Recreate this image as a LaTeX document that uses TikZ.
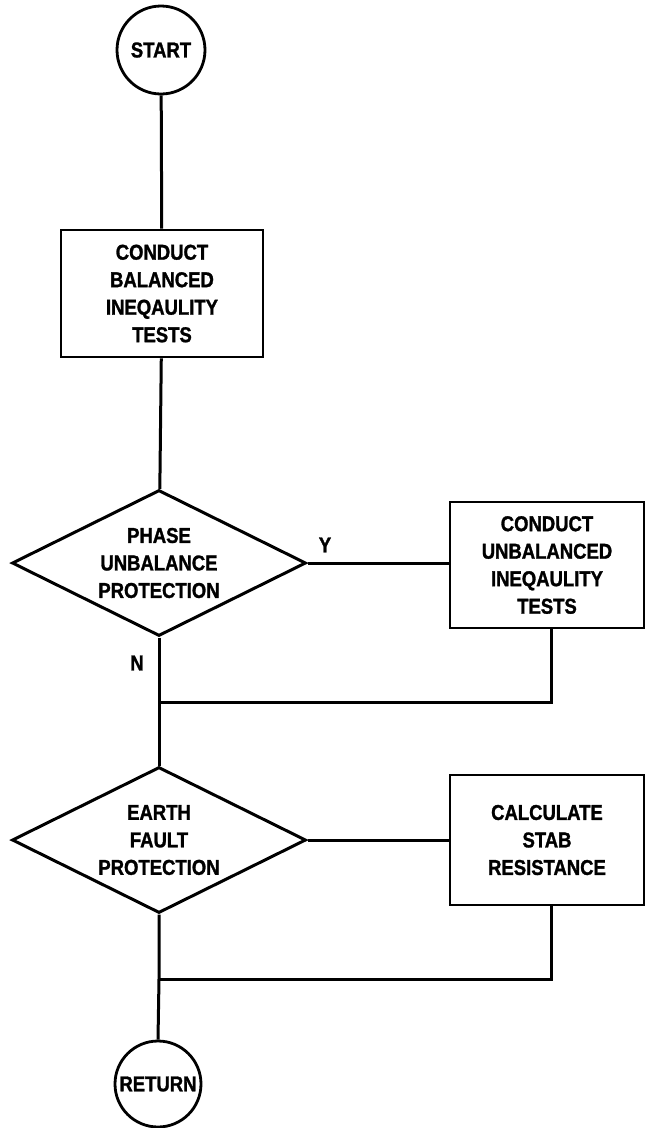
\documentclass[tikz,border=0pt]{standalone}
\usepackage{fontspec}
\newfontfamily\chartfont[FakeStretch=0.86,BoldFeatures={FakeBold=1.3}]{Liberation Sans}
\usetikzlibrary{shapes.geometric}
\begin{document}
\begin{tikzpicture}[x=1pt,y=1pt,
  every node/.style={font=\chartfont\bfseries\fontsize{21.5}{27.5}\selectfont, align=center},
  conn/.style={line width=3pt},
  term/.style={draw, circle, line width=2.8pt, minimum size=88pt, inner sep=0pt},
  procbox/.style={draw, rectangle, line width=2.8pt, inner sep=0pt},
  decision/.style={draw, diamond, line width=3pt, inner sep=-8pt, aspect=2, minimum width=294pt, minimum height=146pt},
  lbl/.style={inner sep=0pt}]
\useasboundingbox (0,0) rectangle (646,-1128);
\node[term] (start) at (161,-50) {START};
\node[procbox, minimum width=202pt, minimum height=127pt] (b1) at (162,-293.5) {CONDUCT\\BALANCED\\INEQAULITY\\TESTS};
\node[decision] (d1) at (159,-563) {PHASE\\UNBALANCE\\PROTECTION};
\node[procbox, minimum width=194pt, minimum height=126pt] (r1) at (547,-565) {CONDUCT\\UNBALANCED\\INEQAULITY\\TESTS};
\node[decision] (d2) at (159,-840) {EARTH\\FAULT\\PROTECTION};
\node[procbox, minimum width=194pt, minimum height=130pt] (r2) at (547,-840) {CALCULATE\\STAB\\RESISTANCE};
\node[term, minimum size=86pt] (ret) at (158,-1084) {RETURN};
\node[lbl] (y) at (325,-545) {Y};
\node[lbl] (n) at (137,-663) {N};
\coordinate (j1) at (159,-702);
\coordinate (j2) at (159,-979);
\draw[conn] (start) -- (b1);
\draw[conn] (b1) -- (d1);
\draw[conn] (d1.east) -- (d1.east -| r1.west);
\draw[conn] (d1.south) -- (j1) -- (d2.north);
\draw[conn] ([xshift=4pt]r1.south) |- (j1);
\draw[conn] (d2.east) -- (r2.west |- d2.east);
\draw[conn] (d2.south) -- (j2) -- (ret.north);
\draw[conn] ([xshift=4pt]r2.south) |- (j2);
\end{tikzpicture}
\end{document}
